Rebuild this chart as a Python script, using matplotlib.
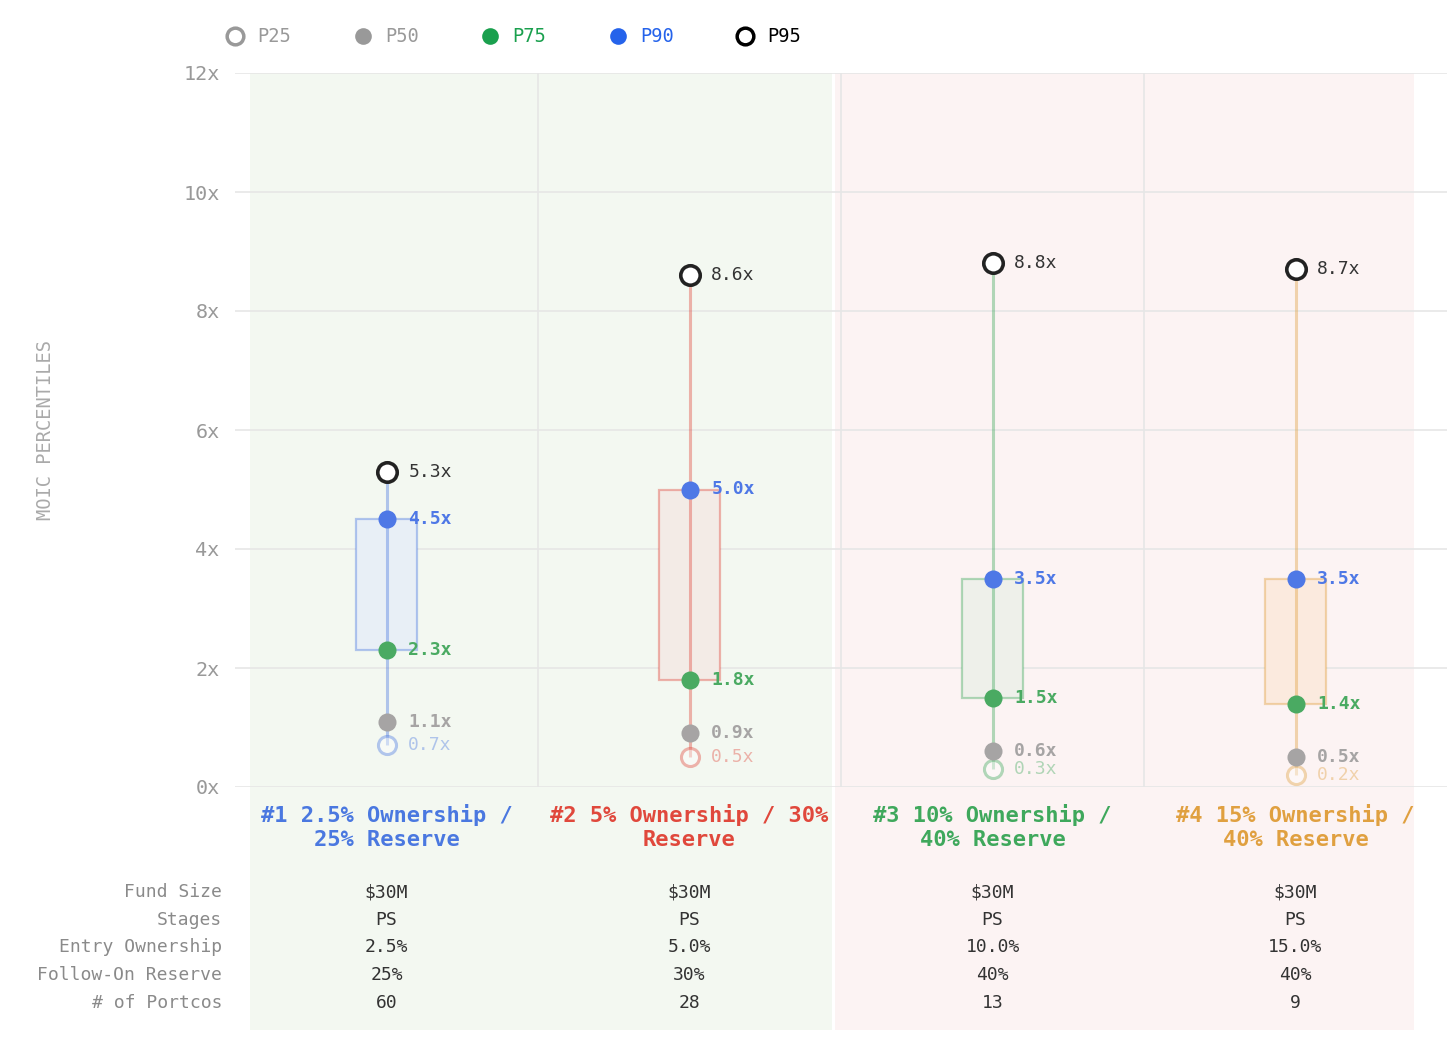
import matplotlib
matplotlib.use('Agg')
import matplotlib.pyplot as plt
import matplotlib.transforms as mtransforms
from matplotlib.patches import Rectangle

plt.rcParams['font.family'] = ['DejaVu Sans Mono', 'DejaVu Sans']

# data
scenarios = ['#1 2.5% Ownership /\n25% Reserve', '#2 5% Ownership / 30%\nReserve',
             '#3 10% Ownership /\n40% Reserve', '#4 15% Ownership /\n40% Reserve']
p25 = [0.7, 0.5, 0.3, 0.2]
p50 = [1.1, 0.9, 0.6, 0.5]
p75 = [2.3, 1.8, 1.5, 1.4]
p90 = [4.5, 5.0, 3.5, 3.5]
p95 = [5.3, 8.6, 8.8, 8.7]

row_labels = ['Fund Size', 'Stages', 'Entry Ownership', 'Follow-On Reserve', '# of Portcos']
fund_size = ['$30M', '$30M', '$30M', '$30M']
stages = ['PS', 'PS', 'PS', 'PS']
entry_own = ['2.5%', '5.0%', '10.0%', '15.0%']
reserve = ['25%', '30%', '40%', '40%']
portcos = ['60', '28', '13', '9']

yticks = [0, 2, 4, 6, 8, 10, 12]

# styling
scen_colors = ['#4a78e0', '#e0483c', '#3fa85c', '#e0a040']
box_fill = ['#e8eff6', '#f3ebe6', '#eef0ea', '#fbeade']
c_p50 = '#a6a4a4'
c_p75 = '#4aaa62'
c_p90 = '#4e78e6'
grid_c = '#e6e6e6'

fig = plt.figure(figsize=(14.56, 10.4), dpi=100)
ax = fig.add_axes([235 / 1456, 1 - 787 / 1040, 1212 / 1456, 714 / 1040])
ax.set_xlim(-0.5, 3.5)
ax.set_ylim(0, 12)
ax.set_facecolor('none')
for s in ax.spines.values():
    s.set_visible(False)

# background bands (x in data, y in figure)
btr = mtransforms.blended_transform_factory(ax.transData, fig.transFigure)
ax.add_patch(Rectangle((-0.45, 1 - 1030 / 1040), 1.92, (1030 - 73) / 1040, transform=btr,
                       facecolor='#f3f8f1', edgecolor='none', zorder=0, clip_on=False))
ax.add_patch(Rectangle((1.48, 1 - 1030 / 1040), 1.91, (1030 - 73) / 1040, transform=btr,
                       facecolor='#fcf3f3', edgecolor='none', zorder=0, clip_on=False))

for y in yticks:
    ax.axhline(y, color=grid_c, lw=1.2, zorder=1)
for x in [0.5, 1.5, 2.5]:
    ax.axvline(x, color=grid_c, lw=1.2, zorder=1)

ax.set_yticks(yticks)
ax.set_yticklabels([f'{v}x' for v in yticks], fontsize=14.5, color='#999999')
ax.tick_params(axis='y', length=0, pad=11)
ax.set_xticks([])
fig.text(46 / 1456, 1 - 430 / 1040, 'MOIC PERCENTILES', rotation=90, ha='center', va='center',
         fontsize=13.5, color='#aaaaaa')

dx = 0.072
for i in range(4):
    c = scen_colors[i]
    ax.plot([i, i], [p25[i], p95[i]], color=c, alpha=0.4, lw=2.2, zorder=3, solid_capstyle='butt')
    ax.add_patch(Rectangle((i - 0.1, p75[i]), 0.2, p90[i] - p75[i], facecolor=box_fill[i],
                           edgecolor='none', zorder=2))
    ax.add_patch(Rectangle((i - 0.1, p75[i]), 0.2, p90[i] - p75[i], facecolor='none',
                           edgecolor=c, alpha=0.4, lw=1.6, zorder=2.5))
    ax.plot(i, p25[i], 'o', ms=13, mfc='white', mec=c, mew=2.2, alpha=0.4, zorder=4)
    ax.plot(i, p50[i], 'o', ms=13, color=c_p50, mec='none', zorder=5)
    ax.plot(i, p75[i], 'o', ms=13, color=c_p75, mec='none', zorder=5)
    ax.plot(i, p90[i], 'o', ms=13, color=c_p90, mec='none', zorder=5)
    ax.plot(i, p95[i], 'o', ms=14, mfc='white', mec='#222222', mew=2.6, zorder=5)

    ax.text(i + dx, p95[i], f'{p95[i]:.1f}x', color='#333333', fontsize=13, va='center', zorder=6)
    ax.text(i + dx, p90[i], f'{p90[i]:.1f}x', color=c_p90, fontsize=13, fontweight='bold',
            va='center', zorder=6)
    ax.text(i + dx, p75[i], f'{p75[i]:.1f}x', color=c_p75, fontsize=13, fontweight='bold',
            va='center', zorder=6)
    ax.text(i + dx, p50[i], f'{p50[i]:.1f}x', color=c_p50, fontsize=13, fontweight='bold',
            va='center', zorder=6)
    ax.text(i + dx, p25[i], f'{p25[i]:.1f}x', color=c, alpha=0.4, fontsize=13,
            va='center', zorder=6)

    ax.text(i, 1 - 827 / 1040, scenarios[i], transform=btr, ha='center', va='center',
            fontsize=15.8, fontweight='bold', color=c, linespacing=1.3)

# table below
rows = [fund_size, stages, entry_own, reserve, portcos]
row_y = [892, 920, 947, 975, 1003]
for lab, vals, ypx in zip(row_labels, rows, row_y):
    yf = 1 - ypx / 1040
    fig.text(222 / 1456, yf, lab, ha='right', va='center', fontsize=13, color='#8a8a8a')
    for i, v in enumerate(vals):
        ax.text(i, yf, v, transform=btr, ha='center', va='center', fontsize=13, color='#333333')

# legend
leg_items = [('P25', 'white', '#999999', '#999999'),
             ('P50', '#999999', '#999999', '#999999'),
             ('P75', '#1aa04e', '#1aa04e', '#1aa04e'),
             ('P90', '#2563eb', '#2563eb', '#2563eb'),
             ('P95', 'white', '#000000', '#000000')]
leg_x = [235, 363, 490, 618, 745]
for (lab, fc, ec, tc), xp in zip(leg_items, leg_x):
    fig.lines.append(plt.Line2D([xp / 1456], [1 - 36 / 1040], marker='o', ms=12, mfc=fc, mec=ec,
                                mew=2.5 if fc == 'white' else 0, transform=fig.transFigure))
    fig.text((xp + 22) / 1456, 1 - 37 / 1040, lab, ha='left', va='center', fontsize=13.5, color=tc)

fig.savefig('out.png', dpi=100, facecolor='white')
